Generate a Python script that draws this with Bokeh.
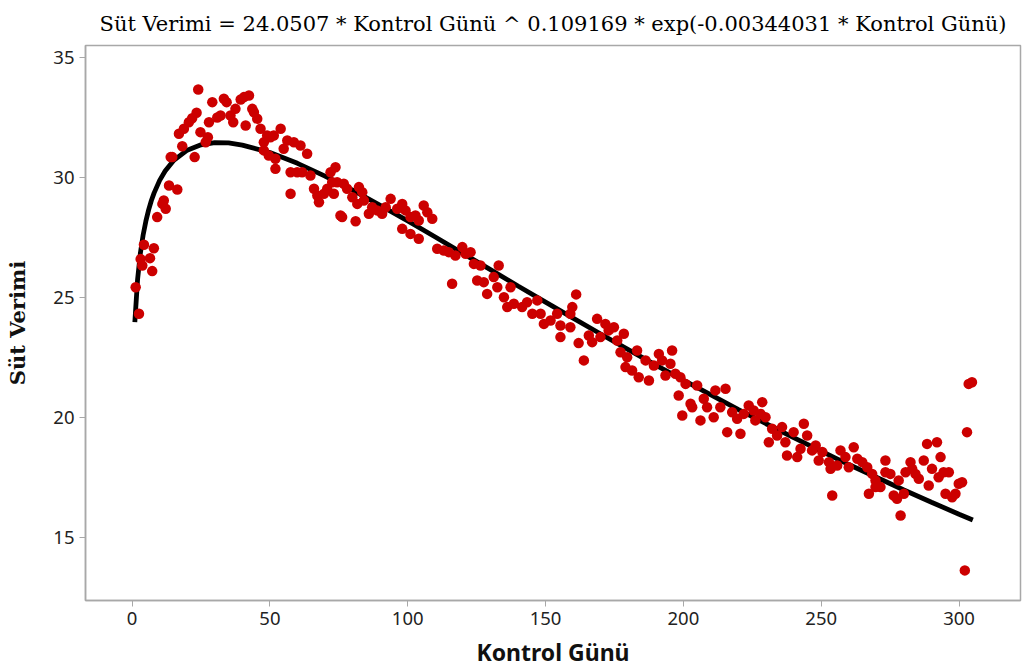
from bokeh.plotting import figure
from bokeh.models import Range1d, FixedTicker
from bokeh.embed import file_html
from bokeh.resources import INLINE

# Observed data: control day vs milk yield
day = [1.3, 2.5, 3.1, 3.7, 4.3, 6.5, 7.3, 7.9, 9.1, 11.0, 11.5, 12.2, 13.4, 14.0, 14.6, 16.4,
       17.0, 18.2, 18.8, 20.6, 21.8, 22.7, 23.4, 24.0, 24.8, 26.7, 27.5, 27.9, 29.1, 30.9,
       32.1, 33.3, 34.3, 35.7, 36.7, 37.5, 39.4, 40.6, 41.2, 42.4, 43.6, 44.2, 45.4, 46.6,
       47.8, 47.8, 49.0, 49.6, 50.2, 51.4, 52.0, 52.0, 53.9, 55.0, 56.3, 57.5, 57.5, 58.7,
       59.9, 61.1, 61.7, 63.5, 64.7, 66.0, 67.2, 67.8, 69.6, 70.8, 72.0, 74.4, 75.6,
       72.6, 73.2, 73.8, 76.2, 76.8, 78.0, 79.9, 81.1, 81.7, 82.3, 83.5, 84.1, 85.9, 87.1,
       88.9, 90.7, 92.0, 93.8, 96.2, 98.0, 98.0, 99.2, 101.0, 101.0, 102.8, 104.0, 104.0,
       105.8, 107.1, 108.9, 110.7, 113.1, 114.9, 116.1, 117.3, 119.8, 121.0, 122.8, 124.0,
       125.2, 126.4, 127.6, 128.8, 131.2, 132.5, 133.0, 134.9, 136.1, 137.3, 138.5, 141.5,
       143.3, 145.2, 147.0, 148.2, 149.4, 151.8, 154.2, 155.4,
       155.4, 159.0, 159.7, 159.0, 161.1, 162.0, 163.9, 165.7, 166.9, 168.7, 169.9, 171.7,
       172.9, 174.8, 176.0, 177.2, 178.4, 179.0, 179.6, 181.4, 183.2, 183.8, 186.3, 187.5,
       189.3, 191.1, 192.3, 193.5, 195.3, 195.9, 197.1, 198.3, 198.9, 199.6, 200.8, 202.6,
       203.2, 205.0, 206.2, 207.4, 208.6, 211.0, 211.6, 213.4, 215.3, 215.9, 217.7, 219.5,
       220.7, 221.9, 223.7, 225.5, 226.1, 228.0, 228.6, 229.8, 231.0, 232.2, 234.0, 235.8,
       237.0, 237.6,
       240.0, 241.3, 242.5, 243.7, 244.9, 246.7, 248.0, 249.1, 250.4, 252.8, 253.4, 254.0,
       255.8, 257.0, 258.8, 260.0, 261.8, 263.1, 264.9, 266.7, 267.3, 268.5, 269.7, 269.7,
       271.5, 273.3, 273.3, 275.1, 276.3, 277.5, 278.1, 278.8, 280.0, 280.6, 282.4, 283.0,
       284.2, 285.4, 287.2, 288.4, 289.0, 290.2, 292.0, 292.6, 293.3, 294.4, 295.1, 296.3,
       297.5, 298.7, 299.9, 301.1, 302.1, 302.9, 303.5, 304.7]

milk = [25.43, 24.32, 26.6, 26.33, 27.2, 26.64, 26.1, 27.05, 28.35, 28.9, 29.04, 28.7, 29.67, 30.85, 30.85, 29.5,
        31.82, 31.3, 32.03, 32.3, 32.47, 30.85, 32.7, 33.67, 31.89, 31.47, 31.68, 32.3, 33.14, 32.5,
        32.58, 33.28, 33.14, 32.58, 32.3, 32.86, 33.25, 33.35, 32.17, 33.42, 32.86, 32.72, 32.45, 32.03,
        31.47, 31.13, 31.75, 30.92, 31.68, 31.75, 30.78, 30.36, 32.03, 31.2, 31.54, 30.22, 29.32, 31.47,
        30.22, 31.33, 30.22, 30.99, 30.08, 29.53, 29.25, 28.97, 29.32, 29.53, 30.22, 29.8, 28.42,
        29.8, 29.32, 30.43, 28.35, 29.74, 29.53, 29.18, 28.18, 28.9, 29.6, 29.39, 29.04, 28.49, 28.76,
        28.63, 28.49, 28.76, 29.11, 28.7, 28.9, 27.86, 28.63, 28.35, 27.65, 28.42, 28.21, 27.45,
        28.83, 28.55, 28.28, 27.03, 26.96, 26.89, 25.57, 26.75, 27.1, 26.82, 26.89, 26.4,
        25.71, 26.33, 25.64, 25.15, 25.85, 25.43, 26.33, 25.01, 24.6, 25.43, 24.74, 24.6,
        24.8, 24.32, 24.88, 24.32, 23.9, 24.04, 24.32, 23.35,
        23.83, 24.32, 24.6, 23.76, 25.13, 23.1, 22.38, 23.42, 23.14, 24.11, 23.35, 23.9,
        23.63, 23.76, 23.21, 22.72, 23.49, 22.1, 22.51, 21.96, 22.79, 21.68, 22.38, 21.54,
        22.17, 22.65, 22.38, 21.75, 22.24, 22.79, 21.82, 20.92, 21.68, 20.08, 21.4, 20.57,
        20.43, 21.33, 19.88, 20.78, 20.43, 20.01, 21.13, 20.43, 21.2, 19.39, 20.22, 19.95,
        19.32, 20.15, 20.5, 20.29, 19.88, 20.15, 20.64, 20.01, 18.97, 19.53, 19.25, 19.6,
        18.97, 18.42,
        19.39, 18.35, 18.7, 19.74, 19.25, 18.63, 18.83, 18.21, 18.56, 18.14, 17.86, 16.75,
        18.0, 18.63, 18.35, 17.93, 18.76, 18.28, 18.14, 17.93, 16.82, 17.65, 17.38, 17.1,
        17.1, 18.21, 17.72, 17.65, 16.75, 16.61, 17.38, 15.92, 16.82, 17.72, 18.14, 17.86,
        17.65, 17.45, 18.21, 18.9, 17.17, 17.86, 18.97, 17.51, 18.35, 17.72, 16.82, 17.72,
        16.68, 16.82, 17.24, 17.3, 13.63, 19.39, 21.4, 21.47]

# Fitted Wood curve values (read at selected control days)
curve_day = [1, 2, 3, 4, 5, 6, 7, 8, 10, 12, 15, 20, 25, 30, 35, 40, 50, 60, 70, 80, 90,
             100, 110, 120, 130, 140, 150, 160, 170, 180, 190, 200, 210, 220, 230, 240,
             250, 260, 270, 280, 290, 300, 305]
curve_milk = [23.97, 25.76, 26.84, 27.60, 28.18, 28.65, 29.04, 29.36, 29.88, 30.27, 30.70,
              31.14, 31.36, 31.45, 31.44, 31.35, 31.04, 30.59, 30.06, 29.47, 28.84, 28.19,
              27.52, 26.84, 26.16, 25.48, 24.81, 24.14, 23.48, 22.83, 22.18, 21.56, 20.94,
              20.33, 19.74, 19.16, 18.60, 18.04, 17.51, 16.98, 16.47, 15.97, 15.73]

x_ticks = [0, 50, 100, 150, 200, 250, 300]
y_ticks = [15, 20, 25, 30, 35]

title_text = "Süt Verimi = 24.0507 * Kontrol Günü ^ 0.109169 * exp(-0.00344031 * Kontrol Günü)"

p = figure(width=1024, height=670, output_backend="svg", toolbar_location=None,
           x_range=Range1d(-16.9, 322.3), y_range=Range1d(12.375, 35.5),
           min_border_left=85, min_border_right=4, min_border_top=45, min_border_bottom=70,
           title=title_text)

p.title.align = "center"
p.title.text_font = "DejaVu Serif"
p.title.text_font_size = "21px"
p.title.text_font_style = "normal"
p.title.text_color = "#000000"
p.title.standoff = 19

p.line(curve_day, curve_milk, line_color="black", line_width=4.8)
p.scatter(day, milk, size=10.5, fill_color="#cc0000", line_color="#cc0000", line_width=0)

p.xgrid.visible = False
p.ygrid.visible = False
p.outline_line_color = "#a8a8a8"
p.outline_line_width = 1.5

for ax in (p.xaxis[0], p.yaxis[0]):
    ax.axis_line_color = "#a8a8a8"
    ax.axis_line_width = 1.5
    ax.major_tick_line_color = "#a8a8a8"
    ax.major_tick_out = 6
    ax.major_tick_in = 0
    ax.minor_tick_line_color = None
    ax.major_label_text_font = "Noto Sans"
    ax.major_label_text_font_size = "18.5px"
    ax.major_label_text_color = "#222222"

p.xaxis.ticker = FixedTicker(ticks=x_ticks)
p.yaxis.ticker = FixedTicker(ticks=y_ticks)

p.xaxis.axis_label = "Kontrol Günü"
p.xaxis.axis_label_text_font = "Noto Sans"
p.xaxis.axis_label_text_font_style = "bold"
p.xaxis.axis_label_text_font_size = "23px"
p.xaxis.axis_label_text_color = "#111111"
p.xaxis.axis_label_standoff = 8

p.yaxis.axis_label = "Süt Verimi"
p.yaxis.axis_label_text_font = "DejaVu Serif"
p.yaxis.axis_label_text_font_style = "bold"
p.yaxis.axis_label_text_font_size = "21px"
p.yaxis.axis_label_text_color = "#111111"
p.yaxis.axis_label_standoff = 20

open("out.html", "w").write(file_html(p, INLINE))
